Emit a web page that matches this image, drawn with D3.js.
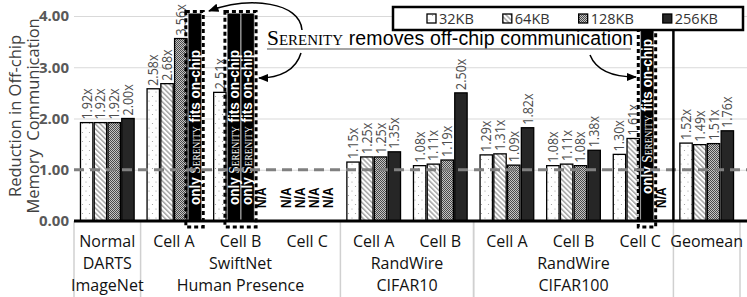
<!DOCTYPE html>
<html>
<head>
<meta charset="utf-8">
<script src="https://cdn.jsdelivr.net/npm/d3@7"></script>
<style>
  body { margin: 0; background: #fff; }
  svg { display: block; }
</style>
</head>
<body>
<div id="chart"></div>
<script>
// categories (row 1 of the x labels) and the group rows under them
const categories = ['Normal', 'Cell A', 'Cell B', 'Cell C', 'Cell A', 'Cell B', 'Cell A', 'Cell B', 'Cell C', 'Geomean']
const groups = [
  { from: 0, to: 0, lines: ['DARTS', 'ImageNet'] },
  { from: 1, to: 3, lines: ['SwiftNet', 'Human Presence'] },
  { from: 4, to: 5, lines: ['RandWire', 'CIFAR10'] },
  { from: 6, to: 8, lines: ['RandWire', 'CIFAR100'] },
  { from: 9, to: 9, lines: [] }
]
const series = ['32KB', '64KB', '128KB', '256KB']

// 'ONCHIP' = only Serenity fits on-chip, 'N/A' = not applicable
const v32 = [1.92, 2.58, 2.51, 'N/A', 1.15, 1.08, 1.29, 1.08, 1.30, 1.52]
const v64 = [1.92, 2.68, 'ONCHIP', 'N/A', 1.25, 1.11, 1.31, 1.11, 1.61, 1.49]
const v128 = [1.92, 3.56, 'ONCHIP', 'N/A', 1.25, 1.19, 1.09, 1.08, 'ONCHIP', 1.51]
const v256 = [2.00, 'ONCHIP', 'N/A', 'N/A', 1.35, 2.50, 1.82, 1.38, 'N/A', 1.76]
// drawn height of the on-chip bars in each category
const onChipTop = [null, 4.05, 4.05, null, null, null, null, null, 3.83, null]

const yTicks = [0, 1, 2, 3, 4]
const baseline = 1

const width = 747
const height = 297
const margin = { top: 16, right: 7, bottom: 76, left: 74 }
const plotRight = 740

const svg = d3.select('#chart').append('svg')
  .attr('width', width)
  .attr('height', height)

const sans = "'Open Sans', 'Liberation Sans', sans-serif"
const arial = "'Liberation Sans', Arial, sans-serif"
const serif = "'Liberation Serif', 'Times New Roman', serif"

// patterns
const defs = svg.append('defs')
const dots = defs.append('pattern').attr('id', 'p32').attr('patternUnits', 'userSpaceOnUse')
  .attr('width', 7).attr('height', 9)
dots.append('rect').attr('width', 7).attr('height', 9).attr('fill', '#fff')
dots.append('circle').attr('cx', 2).attr('cy', 2).attr('r', 0.6).attr('fill', '#999')
dots.append('circle').attr('cx', 5.5).attr('cy', 6.5).attr('r', 0.6).attr('fill', '#999')

const hatch = defs.append('pattern').attr('id', 'p64').attr('patternUnits', 'userSpaceOnUse')
  .attr('width', 3.5).attr('height', 3.5).attr('patternTransform', 'rotate(-45)')
hatch.append('rect').attr('width', 3.5).attr('height', 3.5).attr('fill', '#fff')
hatch.append('line').attr('x1', 0.8).attr('x2', 0.8).attr('y1', 0).attr('y2', 3.5)
  .attr('stroke', '#777').attr('stroke-width', 1)

const check = defs.append('pattern').attr('id', 'p128').attr('patternUnits', 'userSpaceOnUse')
  .attr('width', 2).attr('height', 2)
check.append('rect').attr('width', 2).attr('height', 2).attr('fill', '#c4c4c4')
check.append('rect').attr('width', 1).attr('height', 1).attr('fill', '#4a4a4a')
check.append('rect').attr('x', 1).attr('y', 1).attr('width', 1).attr('height', 1).attr('fill', '#4a4a4a')

const fills = { '32KB': 'url(#p32)', '64KB': 'url(#p64)', '128KB': 'url(#p128)', '256KB': '#262626' }

defs.append('marker').attr('id', 'arrow')
  .attr('viewBox', '0 0 10 10').attr('refX', 9).attr('refY', 5)
  .attr('markerWidth', 7).attr('markerHeight', 7).attr('orient', 'auto')
  .append('path').attr('d', 'M0,1 L10,5 L0,9 Z').attr('fill', '#000')

// scales
const x = d3.scaleBand()
  .domain(d3.range(categories.length))
  .range([margin.left, plotRight])

const xs = d3.scaleBand()
  .domain(series)
  .range([0, x.bandwidth()])
  .paddingInner(0.1)
  .paddingOuter(0.47)

const y = d3.scaleLinear()
  .domain([0, 4])
  .range([221, margin.top])

// gridlines
svg.append('g')
  .attr('transform', `translate(${margin.left},0)`)
  .call(d3.axisLeft(y).tickValues(yTicks.slice(1)).tickSize(-(width - margin.left)).tickFormat(''))
  .call(g => g.select('.domain').remove())
  .call(g => g.selectAll('line').attr('stroke', '#d9d9d9'))

// y tick labels
svg.append('g')
  .attr('transform', `translate(${margin.left},0)`)
  .call(d3.axisLeft(y).tickValues(yTicks).tickSize(0).tickPadding(5).tickFormat(d3.format('.2f')))
  .call(g => g.select('.domain').remove())
  .call(g => g.selectAll('text')
    .attr('font-family', sans).attr('font-size', 15).attr('font-weight', 'bold').attr('fill', '#595959'))

// y title
const yTitle = svg.append('text')
  .attr('transform', `translate(0, ${y(2.05)}) rotate(-90)`)
  .attr('text-anchor', 'middle')
  .attr('font-family', sans)
  .attr('font-size', 16.5)
  .attr('fill', '#404040')
yTitle.append('tspan').attr('x', 0).attr('y', 21).text('Reduction in Off-chip')
yTitle.append('tspan').attr('x', 0).attr('y', 39).attr('xml:space', 'preserve').text('Memory  Communication')

// group separators below the axis
const seps = [...new Set(groups.flatMap(g => [x(g.from), x(g.to) + x.bandwidth()]))]
svg.append('g').selectAll('line')
  .data(seps)
  .join('line')
  .attr('x1', d => d).attr('x2', d => d)
  .attr('y1', y(0)).attr('y2', height)
  .attr('stroke', '#d0d0d0').attr('stroke-width', 1.5)

// category labels
svg.append('g').selectAll('text')
  .data(categories)
  .join('text')
  .attr('x', (d, i) => x(i) + x.bandwidth() / 2)
  .attr('y', 247)
  .attr('text-anchor', 'middle')
  .attr('font-family', sans)
  .attr('font-size', 16)
  .attr('fill', '#111')
  .text(d => d)

groups.forEach(g => {
  const cx = (x(g.from) + x(g.to) + x.bandwidth()) / 2
  g.lines.forEach((t, k) => {
    svg.append('text')
      .attr('x', cx)
      .attr('y', 269 + k * 22)
      .attr('text-anchor', 'middle')
      .attr('font-family', sans)
      .attr('font-size', 16)
      .attr('fill', '#111')
      .text(t)
  })
})

// bars
const columns = [v32, v64, v128, v256]
const cells = []
categories.forEach((c, i) => {
  series.forEach((s, j) => cells.push({ i, s, v: columns[j][i] }))
})

const barG = svg.append('g')
const numeric = cells.filter(d => typeof d.v === 'number')
barG.selectAll('rect.bar')
  .data(numeric)
  .join('rect')
  .attr('class', 'bar')
  .attr('x', d => x(d.i) + xs(d.s))
  .attr('y', d => y(d.v))
  .attr('width', xs.bandwidth())
  .attr('height', d => y(0) - y(d.v))
  .attr('fill', d => fills[d.s])
  .attr('stroke', '#000')
  .attr('stroke-width', 1.3)

barG.selectAll('text.val')
  .data(numeric)
  .join('text')
  .attr('class', 'val')
  .attr('transform', d => `translate(${x(d.i) + xs(d.s) + xs.bandwidth() / 2 + 5}, ${y(d.v) - 3}) scale(1.1,1) rotate(-90)`)
  .attr('font-family', sans)
  .attr('font-size', 12.5)
  .attr('fill', '#4d4d4d')
  .text(d => d.v.toFixed(2) + 'x')

// N/A labels
barG.selectAll('text.na')
  .data(cells.filter(d => d.v === 'N/A'))
  .join('text')
  .attr('class', 'na')
  .attr('transform', d => `translate(${x(d.i) + xs(d.s) + xs.bandwidth() / 2 + 5}, ${y(0) - 13}) scale(1.15,1) rotate(-90)`)
  .attr('font-family', arial)
  .attr('font-size', 12)
  .attr('font-weight', 'bold')
  .attr('fill', '#000')
  .text('N/A')

// on-chip bars: dashed frame round each run, then the black bars
const onchip = cells.filter(d => d.v === 'ONCHIP')
d3.groups(onchip, d => d.i).forEach(([i, list]) => {
  const x0 = d3.min(list, d => x(i) + xs(d.s)) - 2.5
  const x1 = d3.max(list, d => x(i) + xs(d.s) + xs.bandwidth()) + 2.5
  const top = y(onChipTop[i]) - 2
  barG.append('rect')
    .attr('x', x0).attr('y', top)
    .attr('width', x1 - x0).attr('height', y(0) + 6 - top)
    .attr('fill', 'none')
    .attr('stroke', '#000')
    .attr('stroke-width', 3)
    .attr('stroke-dasharray', '4,3')
})

barG.selectAll('rect.onchip')
  .data(onchip)
  .join('rect')
  .attr('class', 'onchip')
  .attr('x', d => x(d.i) + xs(d.s))
  .attr('y', d => y(onChipTop[d.i]))
  .attr('width', xs.bandwidth() + 0.5)
  .attr('height', d => y(0) - y(onChipTop[d.i]))
  .attr('fill', '#000')
  .attr('stroke', '#777')
  .attr('stroke-width', 0.6)

const ocText = barG.selectAll('text.oc')
  .data(onchip)
  .join('text')
  .attr('class', 'oc')
  .attr('transform', d => `translate(${x(d.i) + xs(d.s) + xs.bandwidth() / 2 + 5}, ${d.i === 8 ? 194 : 205}) scale(1.15,1) rotate(-90)`)
  .attr('font-family', arial)
  .attr('font-size', 12)
  .attr('font-weight', 'bold')
  .attr('fill', '#fff')
  .attr('textLength', 155)
  .attr('lengthAdjust', 'spacingAndGlyphs')
ocText.append('tspan').text('only ')
ocText.append('tspan').attr('font-family', serif).attr('font-weight', 'normal')
  .attr('font-variant', 'small-caps').text('Serenity')
ocText.append('tspan').text(' fits on-chip')

// axis line and dashed baseline
svg.append('line')
  .attr('x1', margin.left).attr('x2', width)
  .attr('y1', y(0)).attr('y2', y(0))
  .attr('stroke', '#000').attr('stroke-width', 3)

svg.append('line')
  .attr('x1', margin.left).attr('x2', width)
  .attr('y1', y(baseline)).attr('y2', y(baseline))
  .attr('stroke', '#808080').attr('stroke-width', 3)
  .attr('stroke-dasharray', '10,6')

// geomean separator
svg.append('line')
  .attr('x1', x(9)).attr('x2', x(9))
  .attr('y1', 30).attr('y2', y(0))
  .attr('stroke', '#000').attr('stroke-width', 2.5)

// annotation
const note = svg.append('text')
  .attr('x', 267).attr('y', 45)
  .attr('font-family', arial)
  .attr('font-size', 19.5)
  .attr('fill', '#000')
note.append('tspan').attr('font-family', serif).attr('font-size', 21.5)
  .attr('font-variant', 'small-caps').text('Serenity')
note.append('tspan').text(' removes off-chip communication')
  .attr('textLength', 290)
svg.append('line')
  .attr('x1', 267).attr('x2', 631).attr('y1', 49).attr('y2', 49)
  .attr('stroke', '#888').attr('stroke-width', 1.5)

const arrows = [
  'M302,30 C300,2 250,-4 209,11',
  'M301,53 C296,70 280,78 259,78',
  'M590,55 C596,70 612,77 636,77'
]
svg.append('g').selectAll('path')
  .data(arrows)
  .join('path')
  .attr('d', d => d)
  .attr('fill', 'none')
  .attr('stroke', '#000')
  .attr('stroke-width', 1.5)
  .attr('marker-end', 'url(#arrow)')

// legend
const legend = svg.append('g')
legend.append('rect')
  .attr('x', 393).attr('y', 7)
  .attr('width', 350).attr('height', 23)
  .attr('fill', '#fff')
  .attr('stroke', '#000')
  .attr('stroke-width', 2.5)

let lx = 427
series.forEach(s => {
  legend.append('rect')
    .attr('x', lx).attr('y', 14)
    .attr('width', 9).attr('height', 9)
    .attr('fill', fills[s])
    .attr('stroke', '#000').attr('stroke-width', 1.3)
  const t = legend.append('text')
    .attr('x', lx + 12).attr('y', 24)
    .attr('font-family', sans)
    .attr('font-size', 14.5)
    .attr('fill', '#333')
    .text(s)
  lx += 12 + t.node().getComputedTextLength() + 29
})
</script>
</body>
</html>
